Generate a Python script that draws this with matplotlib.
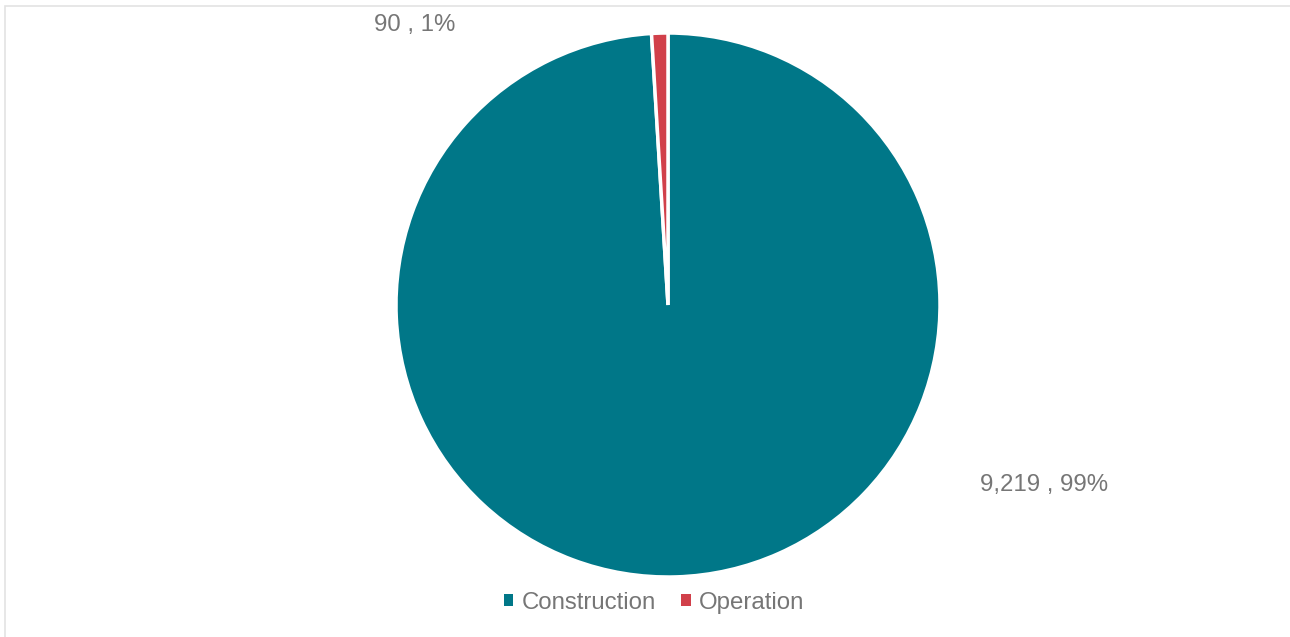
import matplotlib.pyplot as plt
from matplotlib.patches import Rectangle, Patch

# data
labels = ["Construction", "Operation"]
values = [9219, 90]
colors = ["#007788", "#D1404A"]

W, H = 1290, 637
plt.rcParams['font.family'] = ['Liberation Sans', 'DejaVu Sans']

fig = plt.figure(figsize=(W / 100, H / 100), dpi=100)

# light frame around chart area (right and bottom edges fall off the image)
fig.patches.append(Rectangle((5 / W, -0.01), 1.02 - 5 / W, 1 - 6 / H + 0.01,
                             transform=fig.transFigure, fill=False,
                             edgecolor="#E3E3E3", linewidth=1.2))

# pie axes: center (668, 305), radius ~272 px
r = 272
cx, cy = 668, 305
ax = fig.add_axes([(cx - r) / W, 1 - (cy + r) / H, 2 * r / W, 2 * r / H])
wedges, _ = ax.pie(values, colors=colors, startangle=90, counterclock=False,
                   wedgeprops=dict(edgecolor="white", linewidth=2.5))
ax.set_xlim(-1, 1)
ax.set_ylim(-1, 1)
ax.set_aspect("equal")

fs = 17.3
total = sum(values)
txt = [f"{v:,} , {round(v / total * 100)}%" for v in values]
fig.text(1044 / W, 1 - 485 / H, txt[0], ha="center", va="center",
         fontsize=fs, color="#767676")
fig.text(415 / W, 1 - 25 / H, txt[1], ha="center", va="center",
         fontsize=fs, color="#767676")

handles = [Patch(facecolor=c, edgecolor="none") for c in colors]
fig.legend(handles, labels, loc="center", bbox_to_anchor=(654 / W, 1 - 603 / H),
           ncol=2, frameon=False, fontsize=fs, labelcolor="#767676",
           handlelength=0.4, handleheight=0.4, handletextpad=0.35,
           columnspacing=1.05)

fig.savefig("out.png", dpi=100)
